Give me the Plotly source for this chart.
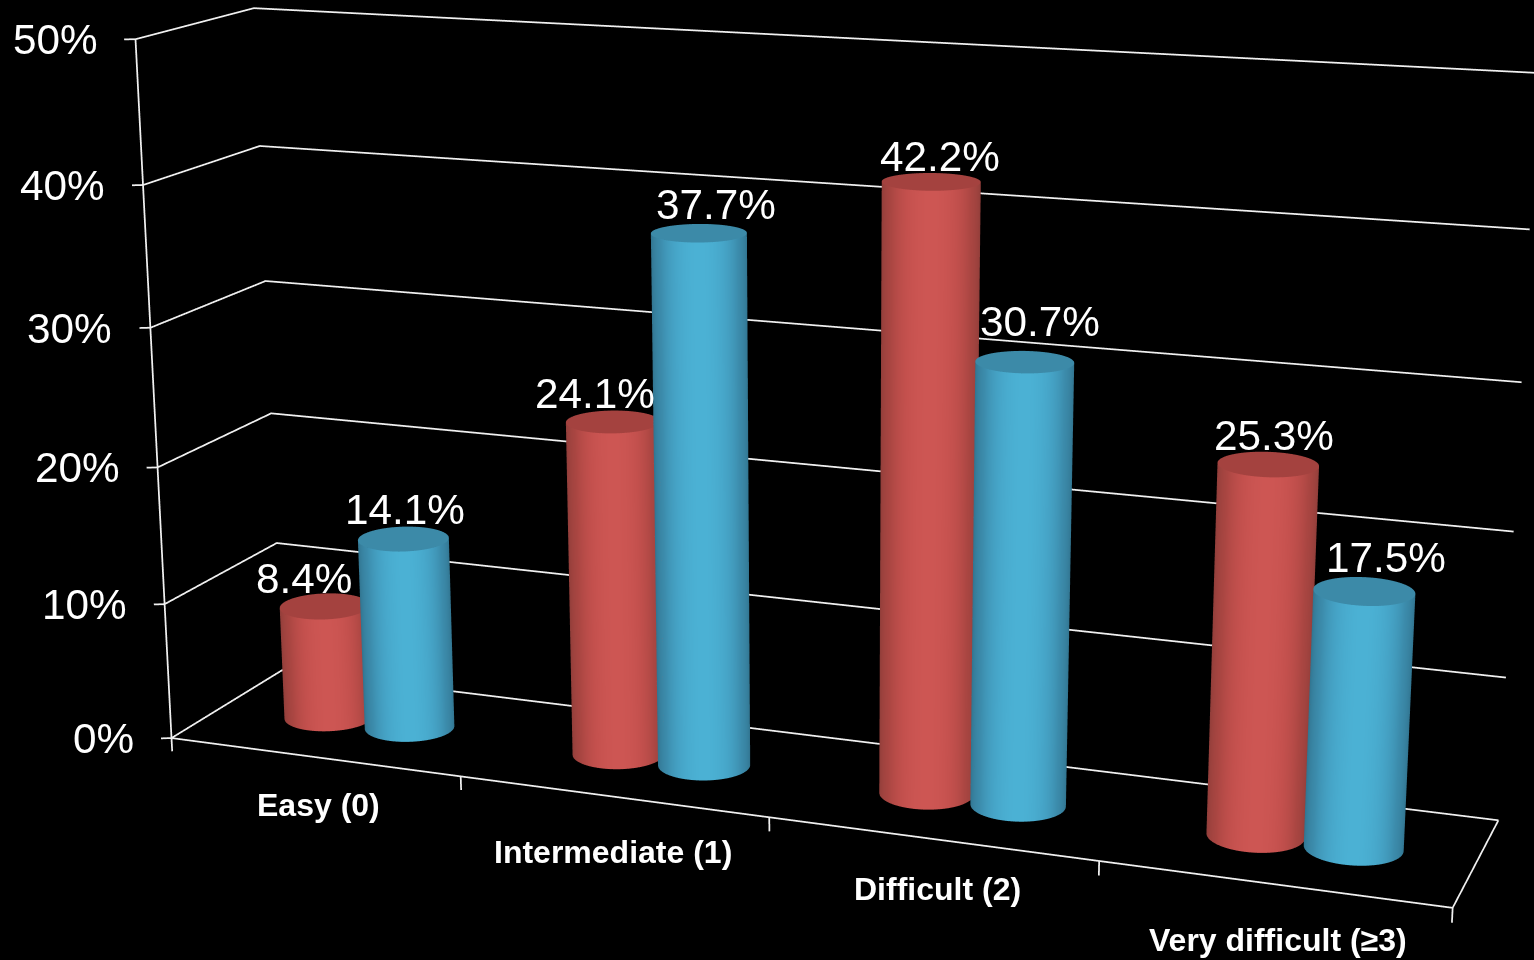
import numpy as np
import plotly.graph_objects as go

# Chart data
categories = ["Easy (0)", "Intermediate (1)", "Difficult (2)", "Very difficult (\u22653)"]
red_values = [8.4, 24.1, 42.2, 25.3]
blue_values = [14.1, 37.7, 30.7, 17.5]
percent_ticks = [0, 10, 20, 30, 40, 50]

# Scene geometry: one unit of x per category, y runs from the front to the back wall.
# Ranges sit a little past the box so the wall lines are not clipped at the bounds.
X_RANGE = [-0.03, 4.03]
Y_RANGE = [-0.02, 1.02]
Z_RANGE = [-1.0, 51.0]
DEPTH_ASPECT = 0.17911
HEIGHT_ASPECT = 0.54709

# Perspective camera; plotly fixes the field of view, so the canvas height sets the focal length
PAGE_W, PAGE_H = 1534, 960
FOCAL = 3555.66
CANVAS_H = int(round(2 * FOCAL * np.tan(np.pi / 8)))
EYE = np.array([0.88137, -2.37040, 0.65088])
FORWARD = np.array([-0.34787, 0.89969, -0.26373])
UP = np.array([-0.09071, 0.24768, 0.96459])

x_aspect = (X_RANGE[1] - X_RANGE[0]) / 4
y_aspect = (Y_RANGE[1] - Y_RANGE[0]) * DEPTH_ASPECT
z_aspect = (Z_RANGE[1] - Z_RANGE[0]) / 50 * HEIGHT_ASPECT
offset = np.array([
    (2 - sum(X_RANGE) / 2) / 4,
    (0.5 - sum(Y_RANGE) / 2) * DEPTH_ASPECT,
    (25 - sum(Z_RANGE) / 2) / 50 * HEIGHT_ASPECT,
])
eye = EYE + offset
look_at = eye + FORWARD * 2.6

# Cylinder shape
RADIUS_X = 0.141
RADIUS_Y = 0.138 / 4 / DEPTH_ASPECT
RED_OFFSET = -0.133
BLUE_OFFSET = 0.152
BAR_DEPTH = 0.49

RED_SCALE = [[0, "#8a3c38"], [0.6, "#aa4642"], [0.87, "#c3504d"], [1, "#cd5653"]]
BLUE_SCALE = [[0, "#2f6e88"], [0.6, "#3c8cac"], [0.87, "#46a5c8"], [1, "#4bb1d4"]]
RED_CAP = "#a4423f"
BLUE_CAP = "#3c8aa8"
LINE_COLOR = "#f0f0f0"

flat_light = dict(ambient=1.0, diffuse=0.0, specular=0.0, fresnel=0.0, roughness=1.0)


def cylinder(cx, height, scale, cap):
    theta = np.linspace(0, 2 * np.pi, 181)
    levels = np.array([0.0, height])
    tt, hh = np.meshgrid(theta, levels)
    px = cx + RADIUS_X * np.cos(tt)
    py = BAR_DEPTH + RADIUS_Y * np.sin(tt)
    # Shade by how squarely each wall facet faces the viewer
    view_angle = np.arctan2(EYE[1], EYE[0] - (cx - 2) / 4)
    shade = np.clip(np.cos(tt - view_angle), 0, 1)
    wall = go.Surface(x=px, y=py, z=hh, surfacecolor=shade, cmin=0, cmax=1,
                      colorscale=scale, showscale=False, lighting=flat_light,
                      hoverinfo="skip")
    rr = np.array([0.0, 1.0])
    tc, rc = np.meshgrid(theta, rr)
    top = go.Surface(x=cx + RADIUS_X * rc * np.cos(tc),
                     y=BAR_DEPTH + RADIUS_Y * rc * np.sin(tc),
                     z=np.full(tc.shape, height), surfacecolor=np.zeros(tc.shape),
                     cmin=0, cmax=1, colorscale=[[0, cap], [1, cap]], showscale=False,
                     lighting=flat_light, hoverinfo="skip")
    return [wall, top]


fig = go.Figure()

# Walls, floor outline and tick marks
def segment(xs, ys, zs):
    fig.add_trace(go.Scatter3d(x=xs, y=ys, z=zs, mode="lines",
                               line=dict(color=LINE_COLOR, width=3.5),
                               hoverinfo="skip", showlegend=False))

for t in percent_ticks:
    segment([X_RANGE[0], 0, 0, 4], [Y_RANGE[0], 0, 1, 1], [t, t, t, t])
segment([0, 0], [0, 0], [0, 50])
segment([0, 4, 4], [0, 0, 1], [0, 0, 0])
for i in range(5):
    segment([i, i], [0, 0], [0, Z_RANGE[0]])

# One red and one blue cylinder per category
for i, (r, b) in enumerate(zip(red_values, blue_values)):
    for tr in cylinder(i + 0.5 + RED_OFFSET, r, RED_SCALE, RED_CAP):
        fig.add_trace(tr)
    for tr in cylinder(i + 0.5 + BLUE_OFFSET, b, BLUE_SCALE, BLUE_CAP):
        fig.add_trace(tr)

# Text placed at scene coordinates
notes = []
VALUE_FONT = dict(family="Liberation Sans", size=42.3, color="white")
CAT_FONT = dict(family="Liberation Sans", size=32, color="white")
red_shift = [(-21, 28), (-18, 28), (9, 25), (6, 29)]
blue_shift = [(2, 29), (17, 29), (15, 41), (22, 34)]
for i in range(4):
    notes.append(dict(x=i + 0.5 + RED_OFFSET, y=BAR_DEPTH, z=red_values[i],
                      text=f"{red_values[i]:.1f}%", showarrow=False, font=VALUE_FONT,
                      xshift=red_shift[i][0], yshift=red_shift[i][1]))
    notes.append(dict(x=i + 0.5 + BLUE_OFFSET, y=BAR_DEPTH, z=blue_values[i],
                      text=f"{blue_values[i]:.1f}%", showarrow=False, font=VALUE_FONT,
                      xshift=blue_shift[i][0], yshift=blue_shift[i][1]))
for t in percent_ticks:
    notes.append(dict(x=0, y=0, z=t, text=f"{t}%", showarrow=False, font=VALUE_FONT,
                      xanchor="right", xshift=-36, yshift=-0.5))
cat_shift = [5, 1, 6, 5]
cat_drop = [48, 56, 50, 56]
for i, c in enumerate(categories):
    notes.append(dict(x=i + 0.5, y=0, z=0, text=f"<b>{c}</b>", showarrow=False, font=CAT_FONT,
                      xshift=cat_shift[i], yshift=-cat_drop[i]))

hidden_axis = dict(visible=False, showspikes=False)
fig.update_layout(
    width=PAGE_W, height=CANVAS_H, autosize=False,
    margin=dict(l=0, r=0, t=0, b=0, pad=0),
    paper_bgcolor="black", plot_bgcolor="black",
    showlegend=False, hovermode=False,
    scene=dict(
        domain=dict(x=[0, 1], y=[0, 1]),
        bgcolor="black",
        xaxis=dict(range=X_RANGE, **hidden_axis),
        yaxis=dict(range=Y_RANGE, **hidden_axis),
        zaxis=dict(range=Z_RANGE, **hidden_axis),
        aspectmode="manual",
        aspectratio=dict(x=x_aspect, y=y_aspect, z=z_aspect),
        camera=dict(
            eye=dict(x=eye[0], y=eye[1], z=eye[2]),
            center=dict(x=look_at[0], y=look_at[1], z=look_at[2]),
            up=dict(x=UP[0], y=UP[1], z=UP[2]),
            projection=dict(type="perspective"),
        ),
        annotations=notes,
    ),
)

# The canvas is taller than the page; centre it on the visible window
shift_up = (CANVAS_H - PAGE_H) // 2
post = (
    "var gd=document.getElementById('{plot_id}');"
    "document.documentElement.style.overflow='hidden';"
    "document.body.style.overflow='hidden';document.body.style.background='black';"
    f"gd.style.marginTop='-{shift_up}px';"
)
fig.write_html("out.html", config=dict(displayModeBar=False), post_script=post)
